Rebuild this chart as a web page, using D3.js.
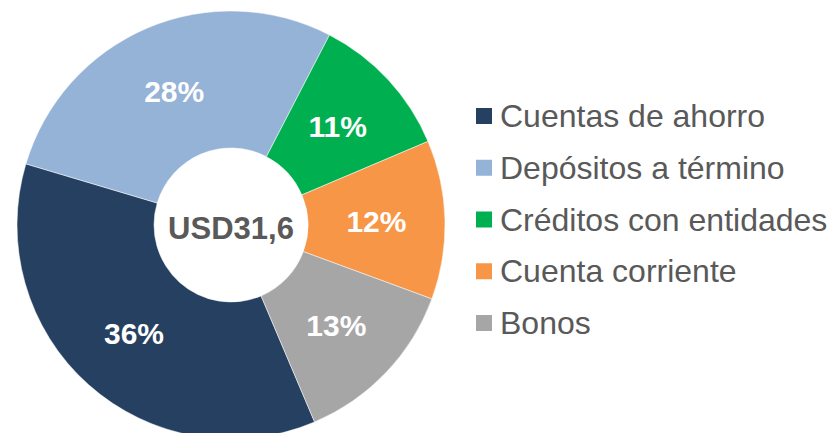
<!DOCTYPE html>
<html>
<head>
<meta charset="utf-8">
<script src="https://cdn.jsdelivr.net/npm/d3@7"></script>
<style>
  html, body { margin: 0; padding: 0; background: #fff; }
  text { font-family: "Liberation Sans", Arial, sans-serif; }
</style>
</head>
<body>
<div id="chart"></div>
<script>
// data
var categories = ["Cuentas de ahorro", "Depósitos a término", "Créditos con entidades", "Cuenta corriente", "Bonos"];
var shares = [36, 28, 11, 12, 13];
var labels = ["36%", "28%", "11%", "12%", "13%"];
var colors = ["#264061", "#95B3D7", "#00B050", "#F79646", "#A6A6A6"];
var centerLabel = "USD31,6";

var width = 828, height = 433;
var cx = 231, cy = 225, outerR = 214, innerR = 77;

var svg = d3.select("#chart")
  .append("svg")
  .attr("width", width)
  .attr("height", height);

var data = categories.map(function(c, i) { return {name: c, value: shares[i], label: labels[i], color: colors[i]}; });

// first slice starts at ~157 degrees, clockwise
var start = 157 * Math.PI / 180;
var pie = d3.pie()
  .sort(null)
  .value(function(d) { return d.value; })
  .startAngle(start)
  .endAngle(start + 2 * Math.PI);

var arc = d3.arc().innerRadius(innerR).outerRadius(outerR);

var g = svg.append("g").attr("transform", "translate(" + cx + "," + cy + ")");

var arcs = pie(data);

g.selectAll("path")
  .data(arcs)
  .enter().append("path")
  .attr("d", arc)
  .attr("fill", function(d) { return d.data.color; })
  .attr("stroke", "#fff")
  .attr("stroke-width", 0.5);

g.selectAll("text.pct")
  .data(arcs)
  .enter().append("text")
  .attr("class", "pct")
  .attr("x", function(d) { return arc.centroid(d)[0]; })
  .attr("y", function(d) { return arc.centroid(d)[1] + 11; })
  .attr("text-anchor", "middle")
  .attr("font-size", 30)
  .attr("font-weight", "bold")
  .attr("fill", "#fff")
  .text(function(d) { return d.data.label; });

g.append("text")
  .attr("x", 0)
  .attr("y", 14)
  .attr("text-anchor", "middle")
  .attr("font-size", 31)
  .attr("font-weight", "bold")
  .attr("fill", "#595959")
  .text(centerLabel);

// legend
var legendY = d3.scalePoint().domain(categories).range([116, 323]);

var legend = svg.append("g").selectAll("g")
  .data(data)
  .enter().append("g")
  .attr("transform", function(d) { return "translate(476," + legendY(d.name) + ")"; });

legend.append("rect")
  .attr("x", 0)
  .attr("y", -8)
  .attr("width", 16)
  .attr("height", 16)
  .attr("fill", function(d) { return d.color; });

legend.append("text")
  .attr("x", 24)
  .attr("y", 11)
  .attr("font-size", 32)
  .attr("fill", "#595959")
  .text(function(d) { return d.name; });
</script>
</body>
</html>
